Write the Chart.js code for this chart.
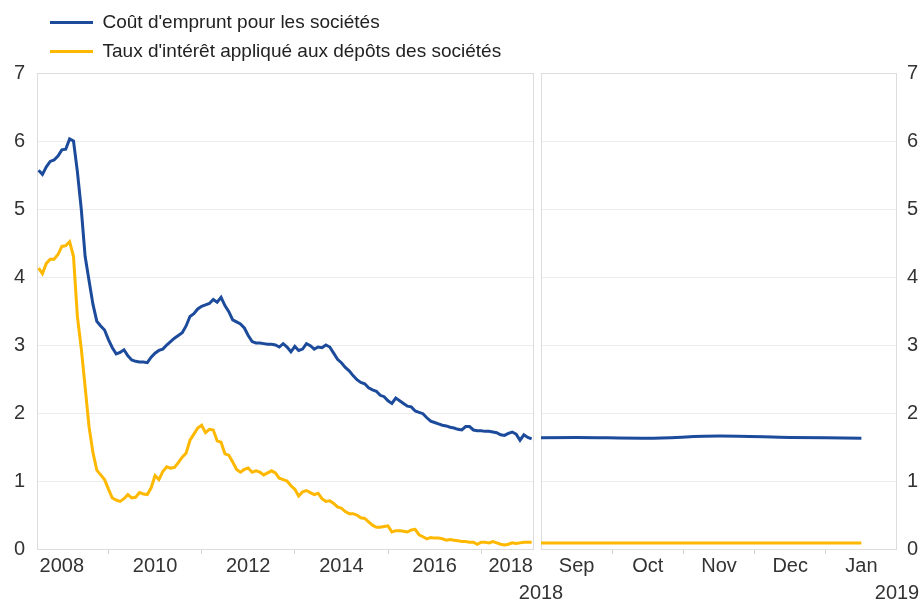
<!DOCTYPE html>
<html>
<head>
<meta charset="utf-8">
<script src="https://cdn.jsdelivr.net/npm/chart.js@4.4.1/dist/chart.umd.min.js"></script>
<style>
html,body{margin:0;padding:0;background:#fff;}
#wrap{position:relative;width:924px;height:604px;overflow:hidden;background:#fff;}
#left{position:absolute;left:0;top:0;}
#right{position:absolute;left:480px;top:0;}
</style>
</head>
<body>
<div id="wrap">
<canvas id="left" width="540" height="604"></canvas>
<canvas id="right" width="444" height="604"></canvas>
</div>
<script>
// ---------- DATA ----------
const seriesNames = ["Coût d'emprunt pour les sociétés", "Taux d'intérêt appliqué aux dépôts des sociétés"];
const firstYear = 2008; // monthly data, Jan 2008 - Aug 2018
const borrowingCost = [
 5.57,5.51,5.62,5.70,5.72,5.78,5.87,5.88,6.03,6.00,
 5.55,5.00,4.30,3.95,3.60,3.35,3.28,3.22,3.08,2.96,
 2.87,2.89,2.93,2.84,2.78,2.76,2.75,2.75,2.74,2.82,
 2.88,2.92,2.94,3.00,3.05,3.10,3.14,3.18,3.28,3.42,
 3.46,3.53,3.57,3.59,3.61,3.67,3.63,3.70,3.58,3.49,
 3.37,3.34,3.31,3.25,3.14,3.05,3.03,3.03,3.02,3.01,
 3.01,3.00,2.97,3.02,2.97,2.90,2.98,2.92,2.94,3.02,
 2.99,2.94,2.97,2.96,3.00,2.97,2.88,2.79,2.74,2.67,
 2.62,2.55,2.49,2.45,2.43,2.37,2.34,2.32,2.26,2.24,
 2.18,2.14,2.22,2.18,2.14,2.10,2.09,2.03,2.01,1.99,
 1.93,1.88,1.86,1.84,1.82,1.81,1.79,1.78,1.76,1.75,
 1.80,1.80,1.75,1.74,1.74,1.73,1.73,1.72,1.71,1.68,
 1.67,1.70,1.72,1.69,1.60,1.68,1.64,1.62
];
const depositRate = [
 4.13,4.05,4.20,4.26,4.26,4.33,4.45,4.46,4.52,4.30,
 3.42,2.95,2.38,1.80,1.42,1.16,1.09,1.02,0.88,0.75,
 0.72,0.70,0.74,0.80,0.75,0.76,0.83,0.81,0.80,0.90,
 1.08,1.02,1.14,1.21,1.19,1.20,1.27,1.35,1.41,1.60,
 1.69,1.78,1.82,1.71,1.76,1.75,1.59,1.57,1.40,1.38,
 1.28,1.17,1.13,1.17,1.19,1.13,1.15,1.13,1.09,1.12,
 1.15,1.12,1.04,1.02,1.00,0.93,0.88,0.78,0.84,0.86,
 0.83,0.80,0.82,0.74,0.70,0.71,0.67,0.62,0.60,0.55,
 0.52,0.52,0.50,0.46,0.45,0.40,0.35,0.32,0.32,0.33,
 0.34,0.25,0.27,0.27,0.26,0.25,0.28,0.29,0.21,0.18,
 0.15,0.17,0.16,0.16,0.15,0.13,0.14,0.13,0.12,0.11,
 0.11,0.10,0.10,0.07,0.10,0.10,0.09,0.11,0.09,0.07,
 0.06,0.07,0.09,0.08,0.09,0.10,0.10,0.10
];
const yearLabels = ['2008','2009','2010','2011','2012','2013','2014','2015','2016','2017','2018'];

// zoomed panel: Aug 2018 - Jan 2019
const zoomMonths = ['Aug','Sep','Oct','Nov','Dec','Jan'];
const zoomBorrowing = [1.63,1.64,1.63,1.66,1.64,1.63];
const zoomDeposit   = [0.09,0.09,0.09,0.09,0.09,0.09];
const zoomYears = ['2018','2019'];

const yTicks = [0,1,2,3,4,5,6,7];

// ---------- STYLE ----------
const BLUE = '#1c4b9c', YELLOW = '#ffb800';
const FONT = "'Liberation Sans', Arial, sans-serif";
const TXT = '#333333';
const GRID = '#ececec';
const BOX = '#dcdcdc';

const panelBox = {
  id: 'panelBox',
  beforeDatasetsDraw(chart) {
    const {ctx, chartArea: a} = chart;
    ctx.save();
    ctx.strokeStyle = BOX; ctx.lineWidth = 1;
    const l = Math.round(a.left) + 0.5, t = Math.round(a.top) + 0.5;
    ctx.strokeRect(l, t, Math.round(a.right) - Math.round(a.left) - 1, Math.round(a.bottom) - Math.round(a.top));
    ctx.restore();
  }
};
const legendShift = {
  id: 'legendShift',
  afterLayout(chart) { if (chart.legend) { chart.legend.left = 40; chart.legend.top = 3; } }
};

const yAxis = (pos) => ({
  type: 'linear', position: pos, min: 0, max: 7,
  afterBuildTicks(s) { s.ticks = yTicks.map(v => ({value: v})); },
  afterFit(s) { s.width = pos === 'left' ? 37 : 27; },
  ticks: { padding: pos === 'left' ? 12 : 10, color: TXT, font: {family: FONT, size: 20} },
  grid: { color: GRID, drawTicks: false },
  border: { display: false }
});

// ---------- LEFT PANEL ----------
const nMonths = borrowingCost.length;
const leftMin = -0.4, leftMax = nMonths - 1 + 0.6;
new Chart(document.getElementById('left'), {
  type: 'line',
  data: {
    datasets: [
      { label: seriesNames[0], data: borrowingCost.map((v, i) => ({x: i, y: v})), borderColor: BLUE, backgroundColor: BLUE, borderWidth: 3, pointRadius: 0, tension: 0 },
      { label: seriesNames[1], data: depositRate.map((v, i) => ({x: i, y: v})), borderColor: YELLOW, backgroundColor: YELLOW, borderWidth: 3, pointRadius: 0, tension: 0 }
    ]
  },
  options: {
    responsive: false, animation: false, devicePixelRatio: 1,
    layout: { padding: { top: 5, right: 6, bottom: 26, left: 0 } },
    plugins: {
      tooltip: { enabled: false },
      legend: {
        position: 'top', align: 'start',
        labels: {
          boxWidth: 43, boxHeight: 3, padding: 10, color: '#222',
          font: { family: FONT, size: 19 },
          generateLabels(chart) {
            return chart.data.datasets.map((ds, i) => ({
              text: ds.label, fillStyle: ds.borderColor, strokeStyle: ds.borderColor,
              lineWidth: 0, hidden: false, datasetIndex: i, fontColor: '#222'
            }));
          }
        }
      }
    },
    scales: {
      x: {
        type: 'linear', min: leftMin, max: leftMax,
        afterBuildTicks(s) {
          s.ticks = yearLabels.map((y, i) => {
            const mid = i * 12 + 6;
            const even = (Number(y) - firstYear) % 2 === 0;
            return { value: Math.min(mid, s.max - 6), lbl: even ? y : '' };
          });
        },
        afterFit(s) { s.height = 29; },
        ticks: { autoSkip: false, maxRotation: 0, padding: 0, color: TXT, font: {family: FONT, size: 20},
                 callback: (v, i, t) => t[i].lbl },
        grid: { drawOnChartArea: false, drawTicks: true, tickLength: 5,
                color: (c) => (c.tick && c.tick.lbl) ? 'rgba(0,0,0,0)' : '#d4d4d4' },
        border: { display: false }
      },
      y: yAxis('left')
    }
  },
  plugins: [panelBox, legendShift]
});

// ---------- RIGHT PANEL ----------
new Chart(document.getElementById('right'), {
  type: 'line',
  data: {
    datasets: [
      { label: seriesNames[0], data: zoomBorrowing.map((v, i) => ({x: i - 1, y: v})), borderColor: BLUE, borderWidth: 3, pointRadius: 0, tension: 0.3 },
      { label: seriesNames[1], data: zoomDeposit.map((v, i) => ({x: i - 1, y: v})), borderColor: YELLOW, borderWidth: 3, pointRadius: 0, tension: 0.3 }
    ]
  },
  options: {
    responsive: false, animation: false, devicePixelRatio: 1,
    layout: { padding: { top: 73, right: 0, bottom: 0, left: 61 } },
    plugins: { tooltip: { enabled: false }, legend: { display: false } },
    scales: {
      x: {
        type: 'linear', min: -0.5, max: 4.5, weight: 0,
        afterBuildTicks(s) {
          const t = [];
          zoomMonths.slice(1).forEach((m, i) => {
            t.push({ value: i, lbl: m });
            if (i < zoomMonths.length - 2) t.push({ value: i + 0.5, lbl: '' });
          });
          s.ticks = t;
        },
        afterFit(s) { s.height = 29; },
        ticks: { autoSkip: false, maxRotation: 0, padding: 0, color: TXT, font: {family: FONT, size: 20},
                 callback: (v, i, t) => t[i].lbl },
        grid: { drawOnChartArea: false, drawTicks: true, tickLength: 5,
                color: (c) => (c.tick && c.tick.lbl) ? 'rgba(0,0,0,0)' : '#d4d4d4' },
        border: { display: false }
      },
      x2: {
        type: 'linear', position: 'bottom', min: -0.5, max: 4.5, weight: 1,
        afterBuildTicks(s) { s.ticks = [{ value: s.min, lbl: zoomYears[0] }, { value: s.max, lbl: zoomYears[1] }]; },
        afterFit(s) { s.height = 26; },
        ticks: { autoSkip: false, maxRotation: 0, padding: -5, color: TXT, font: {family: FONT, size: 20},
                 callback: (v, i, t) => t[i].lbl },
        grid: { display: false },
        border: { display: false }
      },
      y: yAxis('right')
    }
  },
  plugins: [panelBox]
});
</script>
</body>
</html>
